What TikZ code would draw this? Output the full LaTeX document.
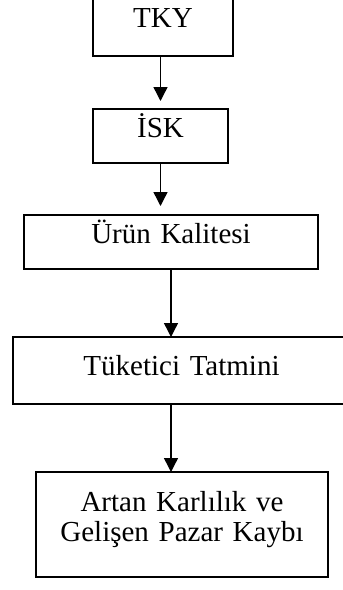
\documentclass[tikz,border=0pt]{standalone}
\usepackage{fontspec}
\setmainfont{Liberation Serif}
\usetikzlibrary{positioning,arrows.meta}
\tikzset{box node/.style={draw,line width=1.4pt,inner sep=0pt,outer sep=0pt,align=center,font=\fontsize{29}{30}\selectfont},
flow/.style={draw,-{Triangle[width=14pt,length=14pt]},line width=1.4pt},
}

\begin{document}
\begin{tikzpicture}[node distance = 53pt]
	\useasboundingbox (0,0) rectangle (343pt,-590pt);
	\node[box node,anchor=north,text width=140pt,text height=28pt,text depth=29pt] (1) at (163pt,1pt) {TKY};
	\node[box node,text width=135pt,text height=28pt,text depth=26pt] (2)[below = of 1,xshift=-2.5pt]{İSK};
	\node[box node,text width=294pt,text height=28pt,text depth=26pt] (3)[below = 52pt of 2,xshift=10.5pt]{Ürün Kalitesi};
	\node[box node,text width=337pt,text height=38pt,text depth=29pt] (4)[below = 68pt of 3,xshift=10.5pt]{Tüketici Tatmini};
	\node[box node,text width=292pt,text height=39pt,text depth=66pt] (5)[below = 68pt of 4,xshift=0.5pt]{Artan Karlılık ve\\Gelişen Pazar Kaybı};
	
	\path
	(2.north |- 1.south) edge[flow,shorten >=8pt] (2.north)
	(2.south) edge[flow,shorten >=9pt] (2.south |- 3.north)
	(3.south) edge[flow] (3.south |- 4.north)
	(3.south |- 4.south) edge[flow] (3.south |- 5.north);
\end{tikzpicture}
\end{document}
